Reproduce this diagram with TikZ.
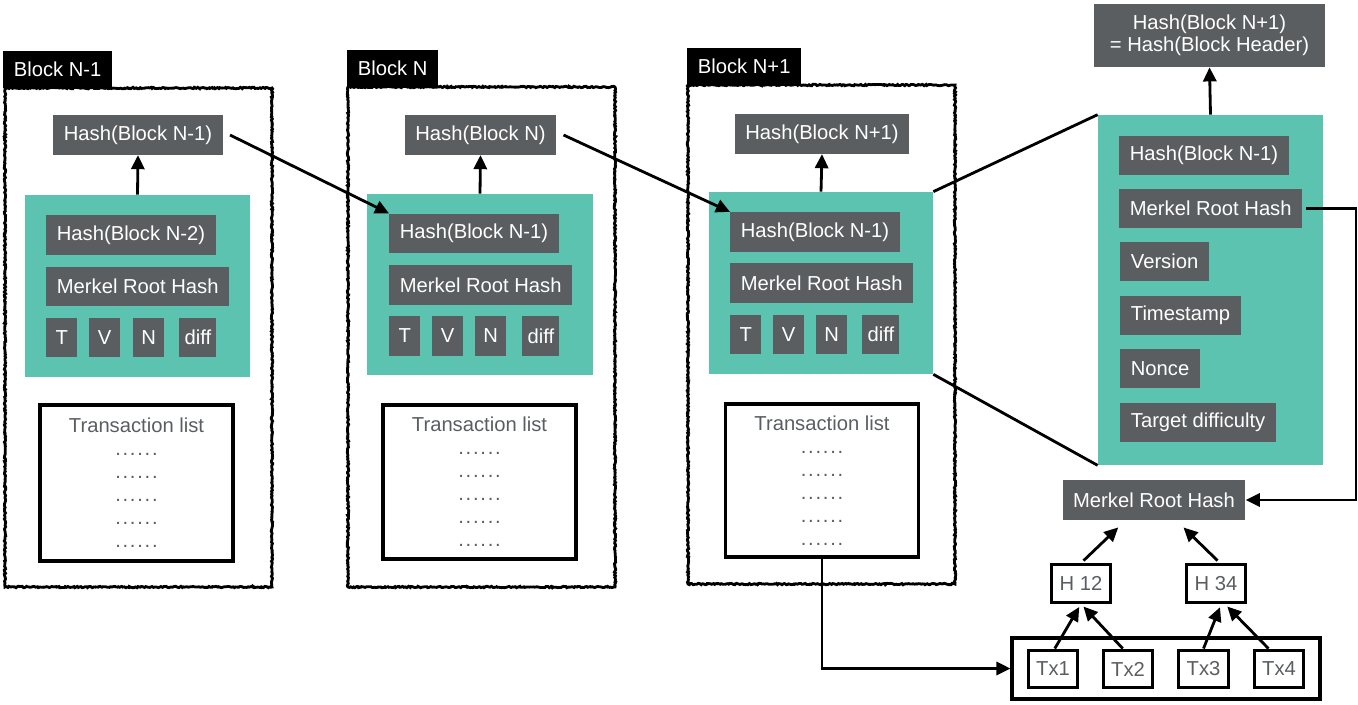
\documentclass[tikz,border=0pt]{standalone}
\usepackage{fontspec}
\setmainfont{Liberation Sans}
\usetikzlibrary{arrows.meta,
                decorations.pathmorphing,
                positioning
            }
\definecolor{boxgrey}{HTML}{5B5E61}
\definecolor{tealc}{HTML}{5CC3B1}
\newcommand{\lblfont}{\fontsize{11.5}{13.1}\selectfont}
\newcommand{\txrow}{.\kern1pt.\kern1pt.\kern1pt.\kern1pt.\kern1pt.}

\begin{document}
\begin{tikzpicture}[x=0.02cm, y=-0.02cm, font=\lblfont,
        gbox/.style={fill=boxgrey, text=white, inner xsep=6pt, minimum height=22.5pt},
        fld/.style={gbox, inner xsep=3pt, minimum width=17.5pt, anchor=west},
        tealbox/.style={fill=tealc, inner sep=0pt},
        wbox/.style={draw, line width=1.8pt, fill=white, text=boxgrey, inner xsep=4.5pt, minimum height=21.5pt},
        tag/.style={fill=black, text=white, inner xsep=6pt, minimum height=21pt, anchor=south west},
        txlist/.style={draw, line width=1.8pt, text=boxgrey, align=center, minimum width=193*0.02cm},
        frame/.style={draw, line width=1.6pt, decorate,
                      decoration={random steps, segment length=0.8pt, amplitude=0.4pt}},
        link/.style={line width=1.6pt},
        arr/.style={link, -{Triangle[length=8pt,width=7.5pt]}}
    ]
            \useasboundingbox (0,0) rectangle (1358,704);
            \pgfmathsetseed{7}

            % block frames
            \draw[frame] (5,88) rectangle (272,587);
            \draw[frame] (348,87) rectangle (615,587);
            \draw[frame] (688,85) rectangle (955,584);
            \node[tag] (tagA) at (3,88) {Block N-1};
            \node[tag] (tagB) at (347,87) {Block N};
            \node[tag] (tagC) at (687,85) {Block N+1};

            % block N-1
            \node[tealbox, minimum width=225*0.02cm, minimum height=182*0.02cm] (tealA) at (137.5,286) {};
            \node[gbox] (hashA) at (138,135) {Hash(Block N-1)};
            \node[gbox, anchor=west] (prevA) at (46,235) {Hash(Block N-2)};
            \node[gbox, anchor=west] (mrhA) at (46,286.5) {Merkel Root Hash};
            \node[fld] (tA) at (46,337.5) {T};
            \node[fld] (vA) at (89,337.5) {V};
            \node[fld] (nA) at (133,337.5) {N};
            \node[fld] (dA) at (179,337.5) {diff};
            \node[txlist, minimum height=156*0.02cm] (txA) at (136.5,483)
                {Transaction list\\\txrow\\\txrow\\\txrow\\\txrow\\\txrow};

            % block N
            \node[tealbox, minimum width=226*0.02cm, minimum height=181*0.02cm] (tealB) at (480,284.5) {};
            \node[gbox] (hashB) at (480.5,135) {Hash(Block N)};
            \node[gbox, anchor=west] (prevB) at (389,233.5) {Hash(Block N-1)};
            \node[gbox, anchor=west] (mrhB) at (389,285) {Merkel Root Hash};
            \node[fld] (tB) at (389,336) {T};
            \node[fld] (vB) at (432,336) {V};
            \node[fld] (nB) at (475,336) {N};
            \node[fld] (dB) at (522,336) {diff};
            \node[txlist, minimum height=154*0.02cm] (txB) at (479.5,482)
                {Transaction list\\\txrow\\\txrow\\\txrow\\\txrow\\\txrow};

            % block N+1
            \node[tealbox, minimum width=224*0.02cm, minimum height=182*0.02cm] (tealC) at (821,283) {};
            \node[gbox] (hashC) at (822,134) {Hash(Block N+1)};
            \node[gbox, anchor=west] (prevC) at (730,232) {Hash(Block N-1)};
            \node[gbox, anchor=west] (mrhC) at (730,283) {Merkel Root Hash};
            \node[fld] (tC) at (730,334.5) {T};
            \node[fld] (vC) at (773,334.5) {V};
            \node[fld] (nC) at (816,334.5) {N};
            \node[fld] (dC) at (862,334.5) {diff};
            \node[txlist, minimum height=153*0.02cm] (txC) at (822,480.5)
                {Transaction list\\\txrow\\\txrow\\\txrow\\\txrow\\\txrow};

            % block header
            \node[gbox, align=center, minimum width=231*0.02cm, minimum height=63*0.02cm,
                  font=\fontsize{11.5}{12.5}\selectfont] (hashH) at (1209.5,35.5)
                {Hash(Block N+1)\\ = Hash(Block Header)};
            \node[tealbox, minimum width=225*0.02cm, minimum height=350*0.02cm] (tealH) at (1210.5,290) {};
            \node[gbox, anchor=west] (prevH) at (1119,155.5) {Hash(Block N-1)};
            \node[gbox, anchor=west] (mrhH) at (1119,208.5) {Merkel Root Hash};
            \node[gbox, anchor=west] (verH) at (1120,261.5) {Version};
            \node[gbox, anchor=west] (timH) at (1120,315.5) {Timestamp};
            \node[gbox, anchor=west] (nonH) at (1120,368.5) {Nonce};
            \node[gbox, anchor=west] (tgtH) at (1120,422.5) {Target difficulty};

            % merkel tree
            \node[gbox] (mrh) at (1154,500) {Merkel Root Hash};
            \node[wbox] (h12) at (1081,583.5) {H 12};
            \node[wbox] (h34) at (1216,583.5) {H 34};
            \node[draw, line width=1.8pt, minimum width=308*0.02cm, minimum height=61*0.02cm] (txs) at (1166,668.5) {};
            \node[wbox] (tx1) at (1053,669) {Tx1};
            \node[wbox] (tx2) at (1128,669) {Tx2};
            \node[wbox] (tx3) at (1203.5,669) {Tx3};
            \node[wbox] (tx4) at (1279,669) {Tx4};

            % connectors
            \draw[arr] (tealA.north) -- (hashA.south);
            \draw[arr] (tealB.north) -- (hashB.south);
            \draw[arr] (tealC.north) -- (hashC.south);
            \draw[arr] (tealH.north) -- (hashH.south);
            \draw[arr] ([xshift=4pt]hashA.east) -- (prevB.north west);
            \draw[arr] ([xshift=4pt]hashB.east) -- (prevC.north west);
            \draw[link] (tealC.north east) -- (tealH.north west);
            \draw[link] (tealC.south east) -- (tealH.south west);
            \draw[arr] ([xshift=2pt]mrhH.east) -- ++(50,0) |- (mrh.east);
            \draw[arr] (txC.south) |- (txs.west);
            \draw[arr, shorten <=2pt, shorten >=6pt] (h12.north) -- ([xshift=-16pt]mrh.south);
            \draw[arr, shorten <=2pt, shorten >=6pt] ([xshift=2.3pt]h34.north) -- ([xshift=12.5pt]mrh.south);
            \draw[arr, shorten >=2pt] ([xshift=1pt]tx1.north) -- (h12.south);
            \draw[arr, shorten >=2pt] ([xshift=-3pt]tx2.north) -- (h12.south);
            \draw[arr, shorten >=2pt] (tx3.north) -- ([xshift=3pt]h34.south);
            \draw[arr, shorten >=2pt] ([xshift=-6pt]tx4.north) -- ([xshift=5pt]h34.south);
        \end{tikzpicture}
\end{document}
